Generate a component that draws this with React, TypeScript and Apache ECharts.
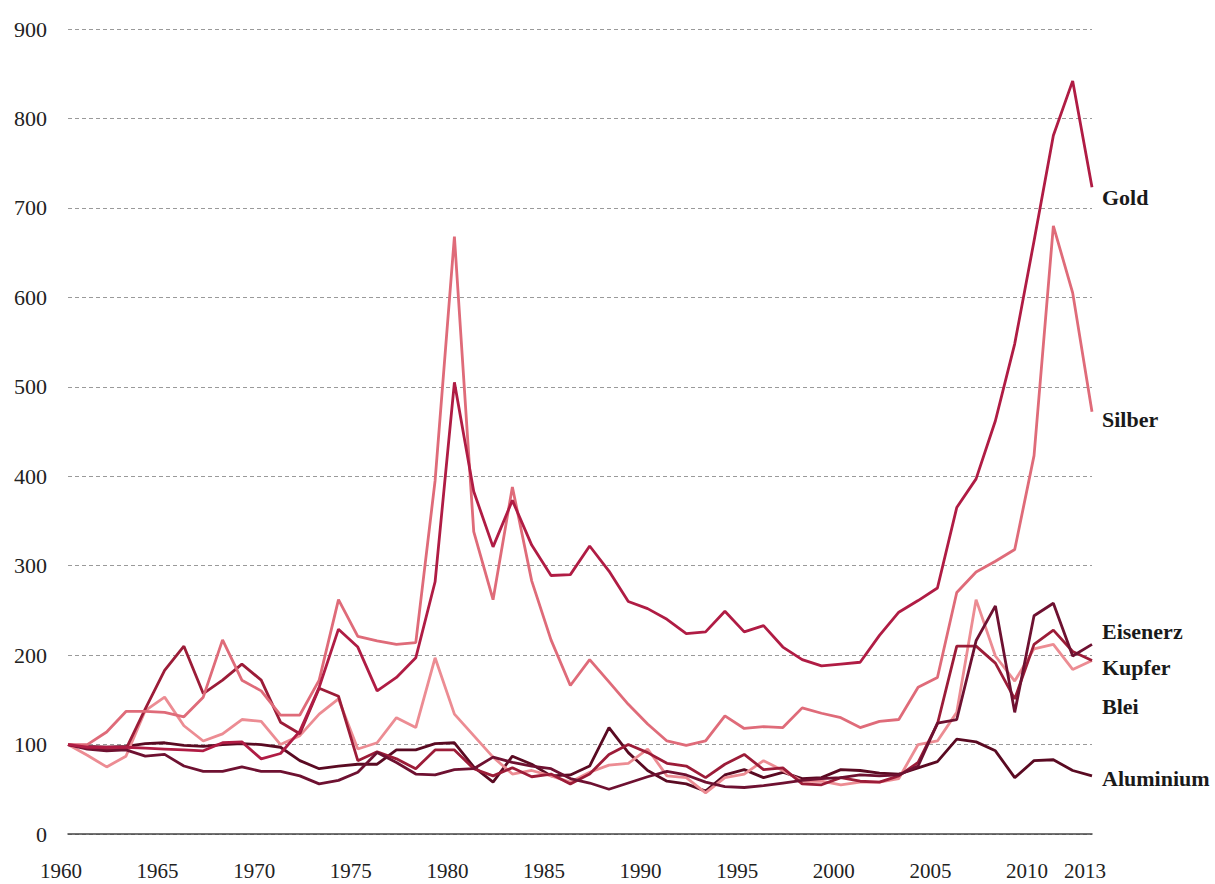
import React, { useEffect, useRef } from "react";
import * as echarts from "echarts";

const years = [
  1960, 1961, 1962, 1963, 1964, 1965, 1966, 1967, 1968, 1969,
  1970, 1971, 1972, 1973, 1974, 1975, 1976, 1977, 1978, 1979,
  1980, 1981, 1982, 1983, 1984, 1985, 1986, 1987, 1988, 1989,
  1990, 1991, 1992, 1993, 1994, 1995, 1996, 1997, 1998, 1999,
  2000, 2001, 2002, 2003, 2004, 2005, 2006, 2007, 2008, 2009,
  2010, 2011, 2012, 2013,
];

const xTickLabels = [1960, 1965, 1970, 1975, 1980, 1985, 1990, 1995, 2000, 2005, 2010, 2013];

const gold = [
  100, 97, 97, 97, 96, 95, 94, 93, 102, 103,
  84, 90, 115, 164, 229, 209, 160, 175, 197, 282,
  505, 383, 321, 373, 323, 289, 290, 322, 294, 260,
  252, 240, 224, 226, 249, 226, 233, 209, 195, 188,
  190, 192, 222, 248, 261, 275, 365, 397, 462, 548,
  663, 781, 842, 723,
];

const silber = [
  100, 100, 114, 137, 137, 136, 131, 153, 217, 172,
  160, 133, 133, 172, 262, 221, 216, 212, 214, 395,
  668, 338, 262, 388, 283, 217, 166, 195, 170, 145,
  123, 104, 99, 104, 132, 118, 120, 119, 141, 135,
  130, 119, 126, 128, 164, 175, 270, 293, 305, 318,
  423, 680, 605, 472,
];

const eisenerz = [
  100, 95, 93, 94, 87, 89, 76, 70, 70, 75,
  70, 70, 65, 56, 60, 69, 91, 80, 67, 66,
  72, 73, 86, 80, 76, 73, 62, 57, 50, 57,
  64, 70, 66, 58, 53, 52, 54, 57, 60, 62,
  63, 66, 65, 66, 76, 124, 128, 216, 255, 136,
  244, 258, 199, 212,
];

const kupfer = [
  100, 97, 94, 95, 140, 183, 210, 157, 172, 190,
  172, 125, 112, 163, 154, 82, 92, 84, 73, 94,
  94, 73, 65, 74, 64, 67, 56, 67, 89, 100,
  91, 79, 76, 63, 78, 89, 72, 74, 56, 55,
  63, 59, 58, 65, 80, 123, 210, 210, 191, 151,
  212, 228, 204, 194,
];

const blei = [
  100, 88, 75, 87, 138, 153, 121, 104, 112, 128,
  126, 100, 110, 134, 151, 95, 102, 130, 119, 197,
  134, 110, 86, 67, 71, 65, 58, 69, 77, 79,
  95, 65, 63, 46, 63, 67, 82, 71, 59, 59,
  55, 58, 58, 62, 100, 104, 136, 262, 199, 171,
  207, 212, 184, 194,
];

const aluminium = [
  100, 98, 97, 98, 101, 102, 99, 98, 100, 101,
  100, 97, 82, 73, 76, 78, 78, 94, 94, 101,
  102, 75, 58, 87, 78, 65, 66, 76, 119, 91,
  71, 59, 56, 48, 66, 72, 63, 69, 62, 63,
  72, 71, 68, 67, 74, 81, 106, 103, 93, 63,
  82, 83, 71, 65,
];

const seriesNames = ["Gold", "Silber", "Eisenerz", "Kupfer", "Blei", "Aluminium"];
const seriesValues = [gold, silber, eisenerz, kupfer, blei, aluminium];
const seriesColors = ["#b01c44", "#df6b79", "#6e1131", "#9c1c38", "#ec8c93", "#5a0a22"];
const labelOffsets = [
  [0, 10],
  [0, 8],
  [0, -13],
  [0, 7],
  [0, 46],
  [0, 3],
];

const FONT = '"Liberation Serif", "Times New Roman", serif';

export default function App() {
  const ref = useRef<HTMLDivElement>(null);

  useEffect(() => {
    if (!ref.current) return;
    const chart = echarts.init(ref.current, null, { renderer: "svg" });

    const series = seriesNames.map((name, i) => ({
      name,
      type: "line",
      data: years.map((y, j) => [y, seriesValues[i][j]]),
      showSymbol: false,
      symbol: "none",
      lineStyle: { color: seriesColors[i], width: 2.8 },
      itemStyle: { color: seriesColors[i] },
      z: 10 - i,
      endLabel: {
        show: true,
        formatter: "{a}",
        distance: 10,
        offset: labelOffsets[i],
        fontFamily: FONT,
        fontWeight: "bold",
        fontSize: 22,
        color: "#1a1a1a",
      },
    }));

    chart.setOption({
      animation: false,
      backgroundColor: "#ffffff",
      grid: { left: 68, right: 123, top: 29, bottom: 50, containLabel: false },
      xAxis: {
        type: "value",
        min: 1960,
        max: 2013,
        splitLine: { show: false },
        axisTick: { show: false },
        axisLine: { show: true, onZero: true, lineStyle: { color: "#444", width: 1.5 } },
        axisLabel: {
          customValues: xTickLabels,
          formatter: (v: number) => String(v),
          fontFamily: FONT,
          fontSize: 21,
          color: "#222",
          margin: 26,
          padding: [0, 14, 0, 0],
        },
      },
      yAxis: {
        type: "value",
        min: 0,
        max: 900,
        interval: 100,
        axisLine: { show: false },
        axisTick: { show: false },
        splitLine: { show: true, lineStyle: { color: "#9a9a9a", type: [4, 3], width: 1 } },
        axisLabel: {
          fontFamily: FONT,
          fontSize: 22,
          color: "#222",
          margin: 21,
        },
      },
      series,
    });

    return () => chart.dispose();
  }, []);

  return (
    <div
      style={{ position: "fixed", left: 0, top: 0, width: 1215, height: 884, background: "#fff" }}
    >
      <div ref={ref} style={{ width: 1215, height: 884 }} />
    </div>
  );
}
